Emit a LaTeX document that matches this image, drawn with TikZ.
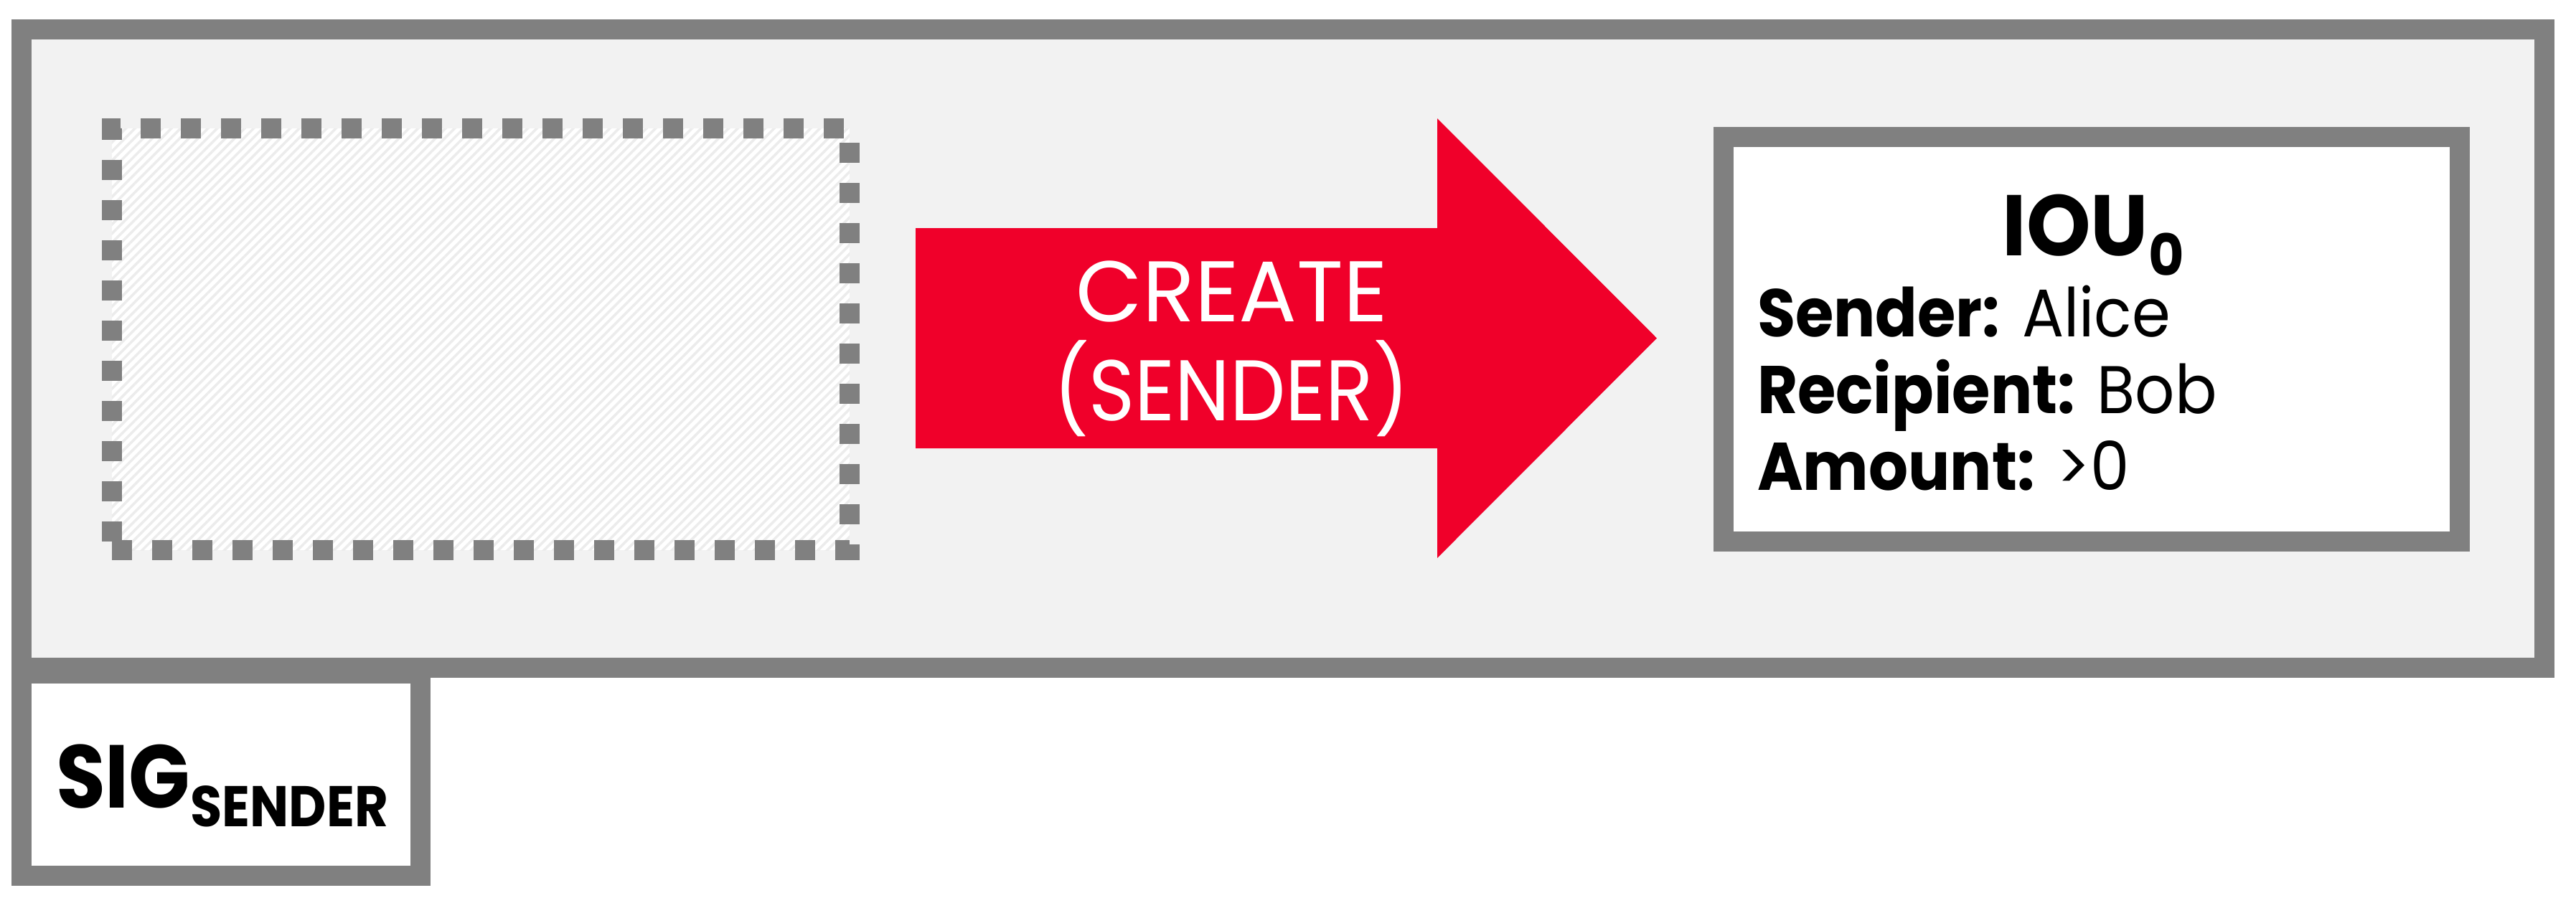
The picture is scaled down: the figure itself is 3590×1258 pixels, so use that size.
\documentclass[tikz,border=0pt]{standalone}
\usepackage{fontspec}
\newfontfamily\popc{Poppins}
\newfontfamily\popd[FakeStretch=0.91]{Poppins}
\newfontfamily\popf[FakeStretch=0.92]{Poppins}
\newfontfamily\popt[FakeStretch=0.95]{Poppins}
\newfontfamily\pops[FakeStretch=0.90]{Poppins}
\usetikzlibrary{patterns.meta}
\definecolor{bordergray}{RGB}{128,128,128}
\definecolor{panelgray}{RGB}{242,242,242}
\definecolor{arrowred}{RGB}{240,0,42}
\definecolor{hatchgray}{RGB}{236,236,236}
\begin{document}
\begin{tikzpicture}[x=0.2pt,y=-0.2pt,
  frame/.style={draw=bordergray,line width=5.6pt,rectangle,inner sep=0pt,outer sep=0pt},
  lbl/.style={inner sep=0pt,outer sep=0pt}]
\useasboundingbox (0,0) rectangle (3590,1258);
% main panel
\node[frame,fill=panelgray,minimum width=703.2pt,minimum height=178pt] (panel) at (1788,486) {};
% empty input slot
\node[frame,dash pattern=on 5.6pt off 5.6pt,preaction={fill=white},
  pattern={Lines[angle=45,distance=1.8pt,line width=0.7pt]},pattern color=hatchgray,
  minimum width=205.6pt,minimum height=117.6pt] (slot) at (670,473) {};
% output state
\node[frame,fill=white,minimum width=205.2pt,minimum height=112.8pt] (iou) at (2915,473) {};
% signature box
\node[frame,fill=white,minimum width=111.2pt,minimum height=56.4pt] (sigbox) at (308,1080) {};
% arrow
\fill[arrowred] (1276,318) -- (2003,318) -- (2003,165) -- (2309,471.5) -- (2003,778) -- (2003,625) -- (1276,625) -- cycle;
\node[lbl,text=white,font=\popc\fontsize{24}{28}\selectfont,anchor=base] (createA) at (1717,448) {CREATE};
\node[lbl,text=white,font=\popd\fontsize{24}{28}\selectfont,anchor=base] (createB) at (1716,586) {(SENDER)};
% IOU text
\node[lbl,anchor=base,font=\popt\bfseries\fontsize{24}{28}\selectfont] (ioutitle) at (2917,356) {IOU\raisebox{-5.6pt}{\fontsize{16}{18}\selectfont 0}};
\node[lbl,anchor=base west,font=\popf\fontsize{18.8}{22}\selectfont] (f1) at (2449,469) {\textbf{Sender:} Alice};
\node[lbl,anchor=base west,font=\popf\fontsize{18.8}{22}\selectfont] (f2) at (2449,576) {\textbf{Recipient:} Bob};
\node[lbl,anchor=base west,font=\popf\fontsize{18.8}{22}\selectfont] (f3) at (2449,683) {\textbf{Amount:} >0};
% signature text
\node[lbl,anchor=base west,font=\pops\bfseries\fontsize{24.9}{30}\selectfont] (sig) at (78,1126) {SIG\raisebox{-5.2pt}{\fontsize{16}{19}\selectfont SENDER}};
\end{tikzpicture}
\end{document}
